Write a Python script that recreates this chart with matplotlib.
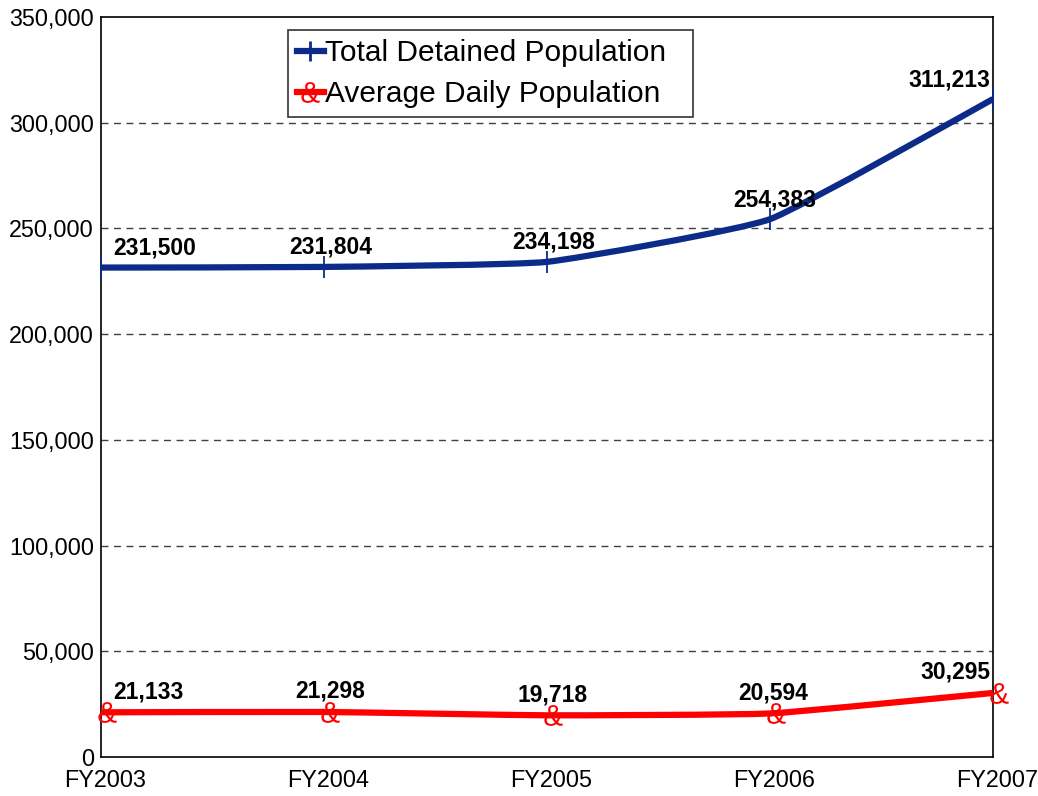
import matplotlib.pyplot as plt
from matplotlib.path import Path
from matplotlib.patches import PathPatch
from matplotlib.textpath import TextPath
from matplotlib.font_manager import FontProperties
from matplotlib.ticker import FuncFormatter
from matplotlib.transforms import ScaledTranslation

plt.rcParams['font.family'] = ['Liberation Sans', 'DejaVu Sans']

years = ['FY2003', 'FY2004', 'FY2005', 'FY2006', 'FY2007']
total_detained = [231500, 231804, 234198, 254383, 311213]
avg_daily = [21133, 21298, 19718, 20594, 30295]

blue = '#0c2a88'
red = '#ff0000'


def smooth_path(xs, ys, k=15.0):
    # lightly smoothed line, bezier segments between the data points
    n = len(xs)
    verts = [(xs[0], ys[0])]
    codes = [Path.MOVETO]
    for i in range(n - 1):
        x0, y0 = (xs[i - 1], ys[i - 1]) if i > 0 else (xs[i], ys[i])
        x1, y1 = xs[i], ys[i]
        x2, y2 = xs[i + 1], ys[i + 1]
        x3, y3 = (xs[i + 2], ys[i + 2]) if i + 2 < n else (x2, y2)
        c1 = (x1 + (x2 - x0) / k, y1 + (y2 - y0) / k)
        c2 = (x2 - (x3 - x1) / k, y2 - (y3 - y1) / k)
        verts += [c1, c2, (x2, y2)]
        codes += [Path.CURVE4] * 3
    return Path(verts, codes)


# '&' glyph as a marker, centred on the point
tp = TextPath((0, 0), '&', size=1, prop=FontProperties(family='Liberation Sans'))
ext = tp.get_extents()
amp_marker = Path(tp.vertices - [(ext.x0 + ext.x1) / 2, (ext.y0 + ext.y1) / 2], tp.codes)

fig = plt.figure(figsize=(10.38, 7.96), dpi=100)
ax = fig.add_axes([0.0973, 0.049, 0.8593, 0.9296])

x = list(range(len(years)))

for vals, col in [(total_detained, blue), (avg_daily, red)]:
    patch = PathPatch(smooth_path(x, vals), facecolor='none', edgecolor=col,
                      lw=4.5, capstyle='butt', joinstyle='round', zorder=3)
    ax.add_patch(patch)

ax.plot(x, total_detained, ls='none', marker='|', color=blue, ms=16, mew=1.3,
        clip_on=False, zorder=4)
ax.plot([v + 0.028 for v in x], avg_daily, ls='none', marker=amp_marker, color=red,
        ms=15, mew=0, mfc=red, clip_on=False, zorder=4)

# legend proxies
ax.plot([], [], color=blue, lw=4.5, marker='+', ms=14, mew=2, label='Total Detained Population')
ax.plot([], [], color=red, lw=4.5, marker=amp_marker, ms=15, mew=0, mfc=red,
        label='Average Daily Population')

# data labels
ha_list = ['left', 'center', 'center', 'center', 'right']
dx_blue = [0.054, 0.03, 0.03, 0.02, -0.013]
dx_red = [0.054, 0.03, 0.025, 0.015, -0.013]
for i in x:
    ax.text(i + dx_blue[i], total_detained[i] + 3800, f'{total_detained[i]:,}',
            ha=ha_list[i], va='bottom', fontsize=16.5, fontweight='bold', zorder=5)
    ax.text(i + dx_red[i], avg_daily[i] + 4300, f'{avg_daily[i]:,}',
            ha=ha_list[i], va='bottom', fontsize=16.5, fontweight='bold', zorder=5)

ax.set_xlim(0, 4)
ax.set_ylim(0, 350000)
ax.set_yticks(range(0, 350001, 50000))
ax.yaxis.set_major_formatter(FuncFormatter(lambda v, p: f'{int(v):,}'))
ax.set_xticks(x)
ax.set_xticklabels(years)
ax.tick_params(axis='both', length=0, labelsize=16.8)
ax.tick_params(axis='y', pad=5)
ax.tick_params(axis='x', pad=9)
shift = ScaledTranslation(4 / 100, 0, fig.dpi_scale_trans)
for lbl in ax.get_xticklabels():
    lbl.set_transform(lbl.get_transform() + shift)

for yv in range(50000, 350000, 50000):
    ax.axhline(yv, color='#404040', lw=1, ls=(0, (5, 4)), zorder=1)

for sp in ax.spines.values():
    sp.set_linewidth(1.2)
    sp.set_color('black')

leg = ax.legend(loc='upper left', bbox_to_anchor=(0.2096, 0, 0.4541, 0.9824),
                mode='expand', fontsize=21.5, frameon=True, fancybox=False,
                handlelength=0.9, handletextpad=0.05, borderpad=0.3,
                labelspacing=0.45, borderaxespad=0)
leg.get_frame().set_edgecolor('black')
leg.get_frame().set_linewidth(1.2)

fig.savefig('out.png', dpi=100)
